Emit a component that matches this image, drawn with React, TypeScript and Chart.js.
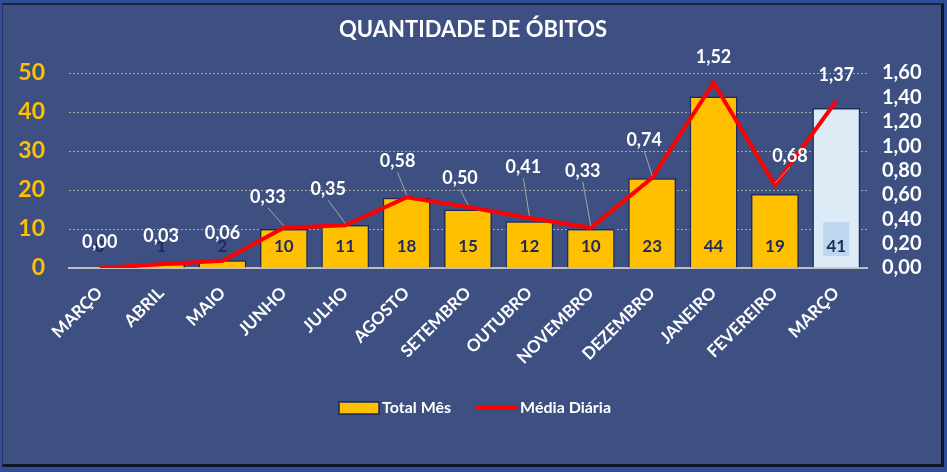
import { useEffect, useRef } from "react";
import { Chart, registerables } from "chart.js";

Chart.register(...registerables);

const FONT = "Lato, 'Open Sans', sans-serif";

const meses = [
  "MARÇO",
  "ABRIL",
  "MAIO",
  "JUNHO",
  "JULHO",
  "AGOSTO",
  "SETEMBRO",
  "OUTUBRO",
  "NOVEMBRO",
  "DEZEMBRO",
  "JANEIRO",
  "FEVEREIRO",
  "MARÇO",
];
const totalMes = [0, 1, 2, 10, 11, 18, 15, 12, 10, 23, 44, 19, 41];
const mediaDiaria = [0.0, 0.03, 0.06, 0.33, 0.35, 0.58, 0.5, 0.41, 0.33, 0.74, 1.52, 0.68, 1.37];

// where each "Média Diária" label sits relative to its point (dx, dy)
const lineLabelShift = [
  [0, -26], [0, -28], [0, -28], [-16, -31], [-17, -36], [-9, -36], [-8, -29],
  [-6, -51], [-8, -57], [-8, -38], [0, -26], [15, -29], [0, -26],
];

const fmt = (v: number) => v.toFixed(2).replace(".", ",");

const labelsPlugin = {
  id: "labelsPlugin",
  afterDatasetsDraw(chart: any) {
    const ctx = chart.ctx;
    const barMeta = chart.getDatasetMeta(0);
    const lineMeta = chart.getDatasetMeta(1);
    const base = chart.scales.y.getPixelForValue(0);
    ctx.save();
    ctx.textAlign = "center";
    ctx.textBaseline = "middle";

    ctx.font = `bold 17px ${FONT}`;
    barMeta.data.forEach((el: any, i: number) => {
      const y = base - 21;
      if (i === totalMes.length - 1) {
        ctx.fillStyle = "#BDD7EE";
        ctx.fillRect(el.x - 13, y - 25, 26, 34);
      }
      ctx.fillStyle = "#1F2A5C";
      ctx.fillText(String(totalMes[i]), el.x, y);
    });

    ctx.font = `bold 18px ${FONT}`;
    lineMeta.data.forEach((pt: any, i: number) => {
      const [dx, dy] = lineLabelShift[i];
      const lx = pt.x + dx;
      const ly = pt.y + dy;
      if (dx !== 0) {
        ctx.strokeStyle = "#A6A6A6";
        ctx.lineWidth = 1;
        ctx.beginPath();
        ctx.moveTo(lx, ly + 11);
        ctx.lineTo(pt.x, pt.y - 2);
        ctx.stroke();
      }
      ctx.fillStyle = "#FFFFFF";
      ctx.fillText(fmt(mediaDiaria[i]), lx, ly);
    });
    ctx.restore();
  },
  afterDraw(chart: any) {
    const ctx = chart.ctx;
    ctx.save();
    ctx.fillStyle = "#FFFFFF";
    ctx.textAlign = "center";
    ctx.textBaseline = "middle";
    ctx.font = `bold 22px ${FONT}`;
    ctx.fillText("QUANTIDADE DE ÓBITOS", 473, 30);

    // legend
    ctx.font = `bold 16px ${FONT}`;
    ctx.textAlign = "left";
    const t1 = "Total Mês";
    const t2 = "Média Diária";
    const w1 = ctx.measureText(t1).width;
    const w2 = ctx.measureText(t2).width;
    const total = 40 + 3 + w1 + 24 + 42 + 3 + w2;
    let x = 475 - total / 2;
    const y = 408;
    ctx.fillStyle = "#FFC000";
    ctx.fillRect(x, y - 6, 40, 12);
    ctx.strokeStyle = "#1F2A5C";
    ctx.lineWidth = 1.5;
    ctx.strokeRect(x, y - 6, 40, 12);
    x += 43;
    ctx.fillStyle = "#FFFFFF";
    ctx.fillText(t1, x, y);
    x += w1 + 24;
    ctx.strokeStyle = "#FF0000";
    ctx.lineWidth = 4;
    ctx.beginPath();
    ctx.moveTo(x, y);
    ctx.lineTo(x + 42, y);
    ctx.stroke();
    x += 45;
    ctx.fillText(t2, x, y);
    ctx.restore();
  },
};

export default function App() {
  const chartRef = useRef<HTMLCanvasElement>(null);

  useEffect(() => {
    document.body.style.margin = "0";
    if (!chartRef.current) return;
    const chartInstance = new Chart(chartRef.current, {
      type: "bar",
      data: {
        labels: meses,
        datasets: [
          {
            type: "bar",
            label: "Total Mês",
            data: totalMes,
            backgroundColor: totalMes.map((_, i) => (i === totalMes.length - 1 ? "#DDEBF7" : "#FFC000")),
            borderColor: "#1F2A5C",
            borderWidth: 1.5,
            barPercentage: 0.78,
            categoryPercentage: 1,
            yAxisID: "y",
            order: 1,
          },
          {
            type: "line",
            label: "Média Diária",
            data: mediaDiaria,
            borderColor: "#FF0000",
            borderWidth: 4,
            pointRadius: 0,
            tension: 0,
            yAxisID: "y1",
            order: 0,
          },
        ] as any,
      },
      options: {
        responsive: false,
        animation: false,
        layout: { padding: { top: 73, left: 0, right: 0, bottom: 0 } },
        plugins: {
          legend: { display: false },
          title: { display: false },
          tooltip: { enabled: false },
        },
        scales: {
          x: {
            grid: { display: false },
            border: { display: true, color: "#BFBFBF", width: 2 },
            ticks: {
              color: "#FFFFFF",
              font: { family: FONT, size: 17, weight: "bold" },
              maxRotation: 45,
              minRotation: 45,
              autoSkip: false,
              padding: 7,
            },
            afterFit(s: any) {
              s.height = 204;
            },
          },
          y: {
            position: "left",
            min: 0,
            max: 50,
            ticks: {
              stepSize: 10,
              color: "#FFC000",
              font: { family: FONT, size: 23, weight: "bold" },
              padding: 24,
              autoSkip: false,
            },
            grid: { color: "#A6A6A6", lineWidth: 1, drawTicks: false },
            border: { display: false, dash: [2, 2] },
            afterFit(s: any) {
              s.width = 69;
            },
          },
          y1: {
            position: "right",
            min: 0,
            max: 1.6,
            ticks: {
              stepSize: 0.2,
              color: "#FFFFFF",
              font: { family: FONT, size: 20, weight: "bold" },
              padding: 15,
              autoSkip: false,
              callback: (v: any) => fmt(Number(v)),
            },
            grid: { display: false, drawTicks: false },
            border: { display: false },
            afterFit(s: any) {
              s.width = 80;
            },
          },
        },
      } as any,
      plugins: [labelsPlugin],
    });

    return () => {
      chartInstance.destroy();
    };
  }, []);

  return (
    <div style={{ position: "relative", width: 947, height: 472, background: "#2F4E97", overflow: "hidden" }}>
      <div
        style={{
          position: "absolute",
          left: 2,
          top: 3,
          width: 938,
          height: 459,
          background: "#3D5081",
          borderTop: "2px solid #1B2540",
          borderLeft: "1px solid #26335A",
          borderRight: "3px solid #111522",
          borderBottom: "3px solid #111522",
        }}
      />
      <canvas ref={chartRef} width={947} height={472} style={{ position: "absolute", left: 0, top: 0 }} />
    </div>
  );
}
